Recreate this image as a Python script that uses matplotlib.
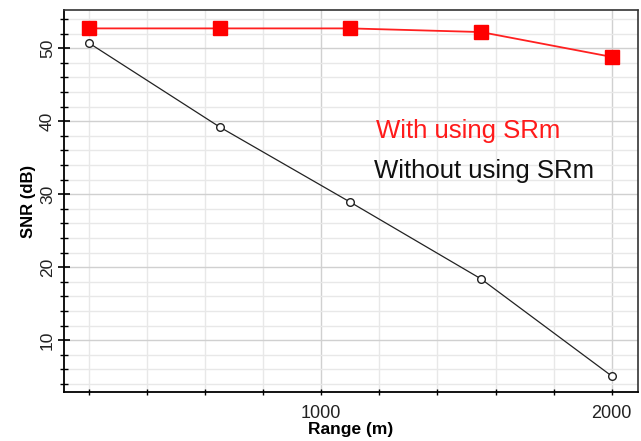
import numpy as np
import matplotlib.pyplot as plt
from matplotlib.ticker import MultipleLocator

plt.rcParams["font.family"] = ["Liberation Sans", "DejaVu Sans"]

# Data
range_m = [200, 650, 1100, 1550, 2000]
snr_with = [52.7, 52.7, 52.7, 52.2, 48.8]
snr_without = [50.7, 39.2, 28.9, 18.4, 5.1]

fig = plt.figure(figsize=(6.41, 4.41), dpi=100)
ax = fig.add_axes([0.0998, 0.111, 0.8952, 0.866])

ax.plot(range_m, snr_with, "-", color="#ff2020", linewidth=1.3,
        marker="s", markersize=9.5, markerfacecolor="#ff0000",
        markeredgecolor="#ff0000", zorder=3)
ax.plot(range_m, snr_without, "-", color="#222222", linewidth=0.9,
        marker="o", markersize=5.5, markerfacecolor="white",
        markeredgecolor="#222222", zorder=3)

ax.set_xlim(114, 2090)
ax.set_ylim(2.9, 55.2)
ax.xaxis.set_major_locator(MultipleLocator(1000))
ax.xaxis.set_minor_locator(MultipleLocator(200))
ax.yaxis.set_major_locator(MultipleLocator(10))
ax.yaxis.set_minor_locator(MultipleLocator(2))

ax.grid(which="minor", color="#e8e8e8", linewidth=1.0, zorder=0)
ax.grid(which="major", color="#d0d0d0", linewidth=1.0, zorder=0)
ax.set_axisbelow(True)

ax.tick_params(axis="y", which="major", direction="inout", length=9, width=1.2,
               labelsize=12.5, labelrotation=90, pad=2, labelcolor="#222222")
ax.tick_params(axis="y", which="minor", direction="inout", length=6, width=1.0)
ax.tick_params(axis="x", which="major", direction="inout", length=4, width=1.0,
               labelsize=13, pad=7, labelcolor="#222222")
ax.tick_params(axis="x", which="minor", direction="inout", length=4, width=1.0)
for lbl in ax.get_yticklabels():
    lbl.set_va("center")

for side in ["left", "bottom"]:
    ax.spines[side].set_linewidth(1.3)
    ax.spines[side].set_color("black")
for side in ["top", "right"]:
    ax.spines[side].set_linestyle((0, (1, 1)))
    ax.spines[side].set_linewidth(1.2)
    ax.spines[side].set_color("#333333")

ax.set_xlabel("Range (m)", fontsize=12.5, fontweight="bold", labelpad=0)
ax.set_ylabel("SNR (dB)", fontsize=12, fontweight="bold", labelpad=3)

ax.text(1190, 38.6, "With using SRm", color="#ff1a1a", fontsize=18.5, va="center")
ax.text(1180, 33.2, "Without using SRm", color="#111111", fontsize=18.5, va="center")

fig.savefig("out.png", dpi=100)
